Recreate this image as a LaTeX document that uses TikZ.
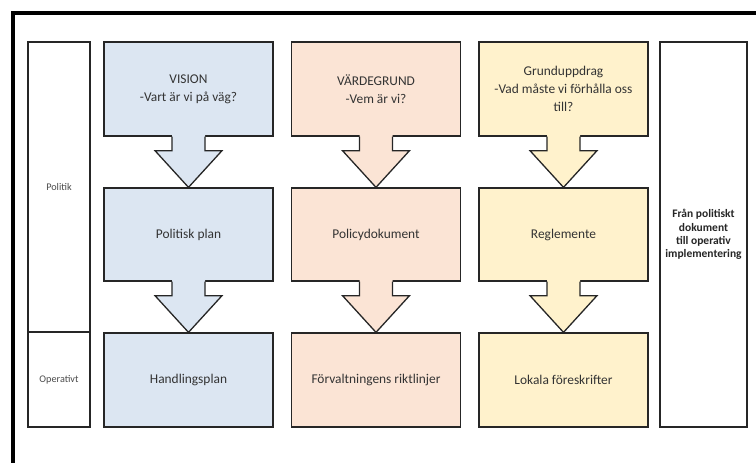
\documentclass[tikz,border=0pt]{standalone}
\usepackage{fontspec}
\setmainfont{Carlito}
\usetikzlibrary{calc}
\definecolor{bluefill}{HTML}{DCE6F2}
\definecolor{peachfill}{HTML}{FBE4D5}
\definecolor{yellowfill}{HTML}{FFF2CC}
\definecolor{edge}{HTML}{262626}
\tikzset{
  box/.style={draw=edge, line width=1.3pt, minimum width=169pt, inner sep=2pt, align=center, font=\fontsize{13.4}{18}\selectfont, text=black!80},
  sidebox/.style={draw=edge, line width=1.3pt, fill=white, inner sep=1pt, align=center},
  sidetext/.style={font=\fontsize{10.2}{12}\selectfont, text=black!70},
  arrowline/.style={draw=edge, line width=1.3pt, line join=miter},
}
\newcommand\flowarrow[3]{%
  \path[fill=#3] ($(#1.south)+(-16.5,-1.5)$) -- ++(0,15.5) -- ++(-17,0) -- (#2.north) -- ($(#1.south)+(33.5,14)$) -- ++(-17,0) -- ++(0,-15.5) -- cycle;
  \draw[arrowline] ($(#1.south)+(-16.5,0)$) -- ++(0,14) -- ++(-17,0) -- (#2.north) -- ($(#1.south)+(33.5,14)$) -- ++(-17,0) -- ++(0,-14);
}
\begin{document}
\begin{tikzpicture}[x=1pt,y=-1pt]
\useasboundingbox (0,0) rectangle (756,463);
\fill[white] (0,0) rectangle (756,463);
\begin{scope}
\clip (0,0) rectangle (756,463);
\draw[line width=4pt, black] (13,480) -- (13,13) -- (780,13);
\end{scope}
% side columns
\node[sidebox, sidetext, minimum width=62pt, minimum height=290pt] (pol) at (59,187) {Politik};
\node[sidebox, sidetext, minimum width=62pt, minimum height=95pt] (op) at (59,379.5) {Operativt};
\node[sidebox, minimum width=87pt, minimum height=385pt, font=\bfseries\fontsize{11.5}{13.3}\selectfont, text=black!85] (fran) at (703.5,234.5) {Från politiskt\\dokument\\till operativ\\implementering};
% blue column
\node[box, fill=bluefill, minimum height=94pt] (vision) at (188.5,89) {VISION\\-Vart är vi på väg?};
\node[box, fill=bluefill, minimum height=93pt] (pplan) at (188.5,234.5) {Politisk plan};
\node[box, fill=bluefill, minimum height=94pt] (hplan) at (188.5,380) {Handlingsplan};
% peach column
\node[box, fill=peachfill, minimum height=94pt] (varde) at (376,89) {VÄRDEGRUND\\-Vem är vi?};
\node[box, fill=peachfill, minimum height=93pt] (policy) at (376,234.5) {Policydokument};
\node[box, fill=peachfill, minimum height=94pt] (forv) at (376,380) {Förvaltningens riktlinjer};
% yellow column
\node[box, fill=yellowfill, minimum height=94pt] (grund) at (563.5,89) {Grunduppdrag\\-Vad måste vi förhålla oss\\till?};
\node[box, fill=yellowfill, minimum height=93pt] (regl) at (563.5,234.5) {Reglemente};
\node[box, fill=yellowfill, minimum height=94pt] (lokala) at (563.5,380) {Lokala föreskrifter};
% arrows
\flowarrow{vision}{pplan}{bluefill}
\flowarrow{pplan}{hplan}{bluefill}
\flowarrow{varde}{policy}{peachfill}
\flowarrow{policy}{forv}{peachfill}
\flowarrow{grund}{regl}{yellowfill}
\flowarrow{regl}{lokala}{yellowfill}
\end{tikzpicture}
\end{document}
